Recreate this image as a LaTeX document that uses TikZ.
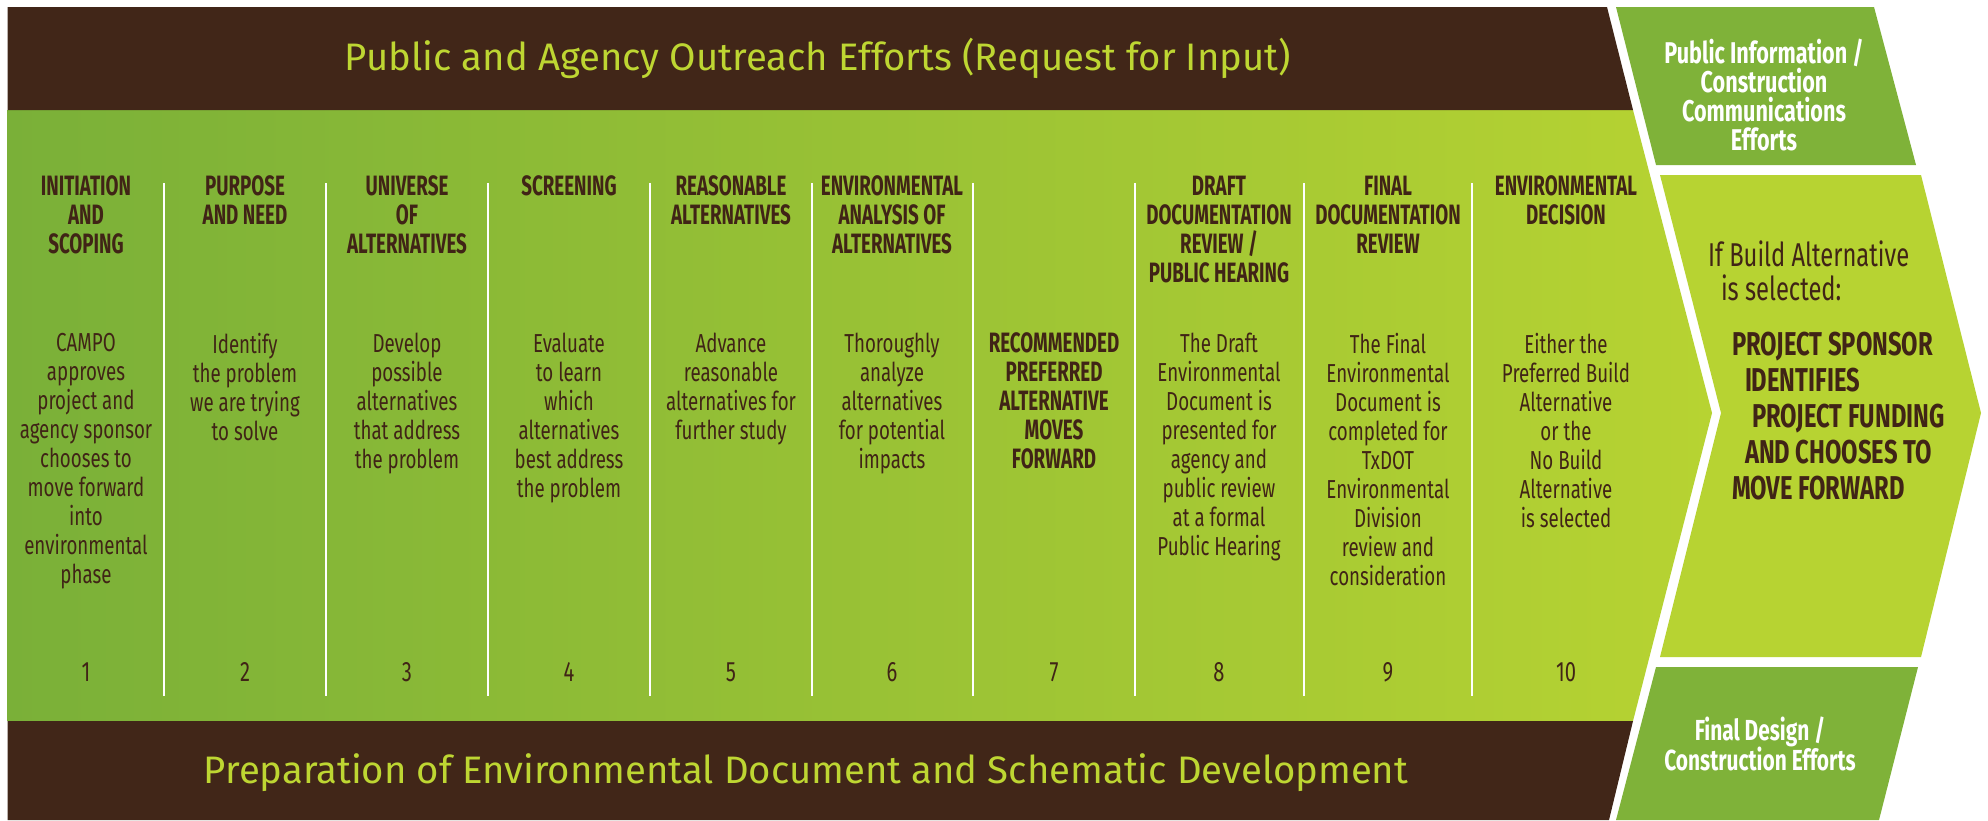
\documentclass[tikz,border=0pt]{standalone}
\usepackage{fontspec}
\setmainfont{Fira Sans}
\newfontfamily\condfont[FakeStretch=0.72]{Fira Sans}
\newfontfamily\headfont[FakeStretch=0.67]{Fira Sans}
\definecolor{barkbrown}{RGB}{65,38,24}
\definecolor{leafgreen}{RGB}{122,176,56}
\definecolor{limeshade}{RGB}{183,211,50}
\definecolor{panelgreen}{RGB}{127,178,57}
\definecolor{titlelime}{RGB}{190,214,50}
\definecolor{inkbrown}{RGB}{64,36,22}
\begin{document}
\begin{tikzpicture}[x=1pt,y=-1pt,
    every node/.style={inner sep=0pt,outer sep=0pt},
    bandtitle/.style={font=\fontsize{38.3}{42}\selectfont,text=titlelime,anchor=base},
    header/.style={font=\headfont\bfseries\fontsize{28}{29}\selectfont,text=inkbrown,align=center,anchor=north},
    desc/.style={font=\condfont\fontsize{26}{29}\selectfont,text=inkbrown,align=center,anchor=north},
    stepnum/.style={font=\condfont\fontsize{28}{29}\selectfont,text=inkbrown,anchor=base},
    paneltext/.style={font=\condfont\bfseries\fontsize{30}{29}\selectfont,text=white,align=center,anchor=north},
    divider/.style={white,line width=1.5pt}]
  \useasboundingbox (0,0) rectangle (1988,820);
  \fill[white] (0,0) rectangle (1988,820);
  % main arrow: brown bands and green body
  \shade[left color=leafgreen,right color=limeshade] (7.6,110) -- (1633,110) -- (1712,413) -- (1633,721) -- (7.6,721) -- cycle;
  \fill[barkbrown] (7.6,7) -- (1607,7) -- (1633,110) -- (7.6,110) -- cycle;
  \fill[barkbrown] (7.6,721) -- (1633,721) -- (1609,820) -- (7.6,820) -- cycle;
  % right panels
  \fill[panelgreen] (1616,7) -- (1874,7) -- (1916,165) -- (1656,165) -- cycle;
  \fill[limeshade] (1660,175) -- (1921,175) -- (1981,413) -- (1921,657) -- (1660,657) -- (1721,413) -- cycle;
  \fill[panelgreen] (1656,667) -- (1918,667) -- (1879,820) -- (1616,820) -- cycle;
  % column dividers
  \foreach \x in {164,326,488,650,812,973,1135,1304,1472}
    \draw[divider] (\x,183) -- (\x,696);
  \node[bandtitle] (outreach) at (818,70) {Public and Agency Outreach Efforts (Request for Input)};
  \node[bandtitle] (preparation) at (806,783) {Preparation of Environmental Document and Schematic Development};
  % column headers
  \foreach \n/\cx/\txt in {1/86/{INITIATION\\AND\\SCOPING},2/245/{PURPOSE\\AND NEED},
      3/407/{UNIVERSE\\OF\\ALTERNATIVES},4/569/{SCREENING},5/731/{REASONABLE\\ALTERNATIVES},
      6/892/{ENVIRONMENTAL\\ANALYSIS OF\\ALTERNATIVES},8/1219/{DRAFT\\DOCUMENTATION\\REVIEW /\\PUBLIC HEARING},
      9/1388/{FINAL\\DOCUMENTATION\\REVIEW},10/1566/{ENVIRONMENTAL\\DECISION}}
    \node[header] (head\n) at (\cx,176) {\txt};
  % column descriptions
  \foreach \n/\cx/\txt in {1/86/{CAMPO\\approves\\project and\\agency sponsor\\chooses to\\move forward\\into\\environmental\\phase},
      2/245/{Identify\\the problem\\we are trying\\to solve},
      3/407/{Develop\\possible\\alternatives\\that address\\the problem},
      4/569/{Evaluate\\to learn\\which\\alternatives\\best address\\the problem},
      5/731/{Advance\\reasonable\\alternatives for\\further study},
      6/892/{Thoroughly\\analyze\\alternatives\\for potential\\impacts},
      8/1219/{The Draft\\Environmental\\Document is\\presented for\\agency and\\public review\\at a formal\\Public Hearing},
      9/1388/{The Final\\Environmental\\Document is\\completed for\\TxDOT\\Environmental\\Division\\review and\\consideration},
      10/1566/{Either the\\Preferred Build\\Alternative\\or the\\No Build\\Alternative\\is selected}}
    \node[desc] (desc\n) at (\cx,333) {\txt};
  \node[header] (desc7) at (1054,333) {RECOMMENDED\\PREFERRED\\ALTERNATIVE\\MOVES\\FORWARD};
  % step numbers
  \foreach \cx [count=\i] in {86,245,407,569,731,892,1054,1219,1388,1566}
    \node[stepnum] (num\i) at (\cx,681) {\i};
  % panel texts
  \node[paneltext] (pubinfo) at (1764,39) {Public Information /\\Construction\\Communications\\Efforts};
  \node[desc,font=\condfont\fontsize{33}{34}\selectfont,align=left,anchor=north west] (ifbuild) at (1708,241)
    {If Build Alternative\\\hspace*{13pt}is selected:};
  \node[header,font=\condfont\bfseries\fontsize{33}{36}\selectfont,align=left,anchor=north west] (sponsor) at (1732,332)
    {PROJECT SPONSOR\\\hspace*{13pt}IDENTIFIES\\\hspace*{20pt}PROJECT FUNDING\\\hspace*{13pt}AND CHOOSES TO\\MOVE FORWARD};
  \node[paneltext,font=\condfont\bfseries\fontsize{29}{30}\selectfont] (finaldesign) at (1760,717) {Final Design /\\Construction Efforts};
\end{tikzpicture}
\end{document}
